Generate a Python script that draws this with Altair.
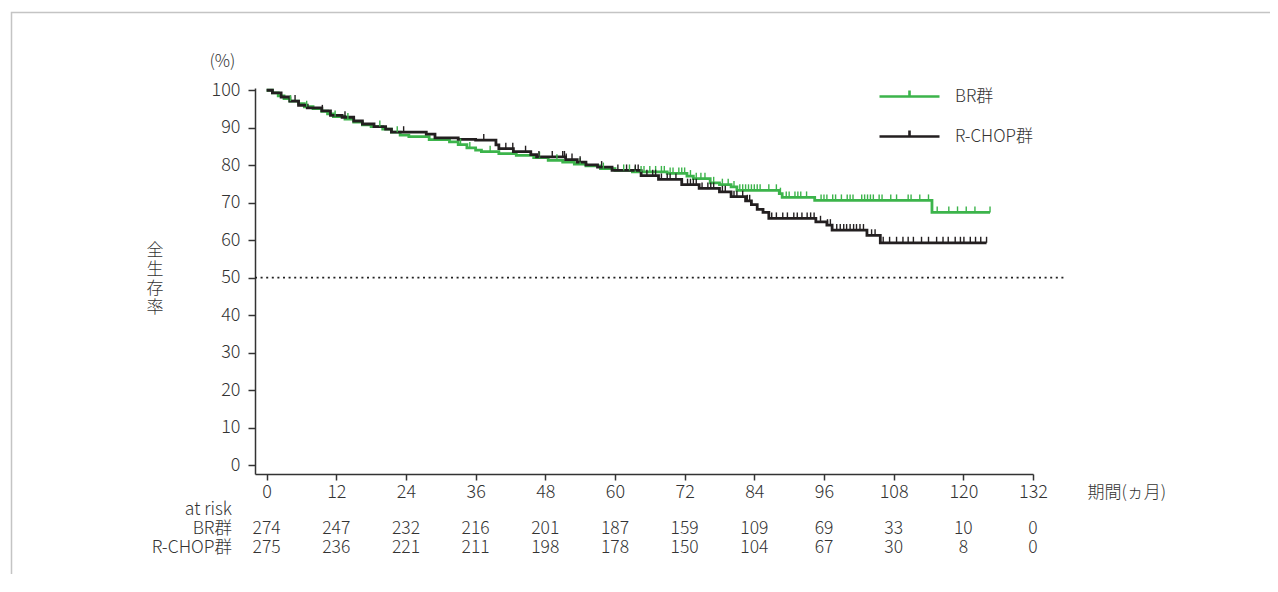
import altair as alt
import pandas as pd

FONT = "Noto Sans CJK JP"
TEXT = "#333333"
W = 300

groups = ["BR群", "R-CHOP群"]
colors = ["#3cb44b", "#231f20"]

# Kaplan-Meier steps (month, survival % after the step)
br_time = [0, 1.0, 2.0, 3.0, 4.0, 5.5, 6.5, 8.0, 9.5, 10.5, 11.5, 13.5, 15.0, 16.5, 18.0, 20.0,
           21.5, 23.0, 24.5, 28.0, 31.5, 33.0, 34.5, 36.0, 37.0, 40.0, 43.0, 46.0, 48.5, 51.0,
           53.0, 55.0, 57.5, 60.0, 63.0, 69.0, 72.4, 73.5, 76.4, 78.0, 80.0, 81.0, 88.3, 88.8,
           94.4, 114.6, 124.6]
br_surv = [100, 99.3, 98.5, 97.8, 97.1, 96.4, 95.6, 95.1, 94.4, 93.7, 93.0, 92.3, 91.5, 90.8, 90.3, 89.6,
           88.8, 88.0, 87.6, 86.8, 86.2, 85.5, 84.6, 84.0, 83.6, 83.1, 82.6, 82.0, 81.3, 80.8,
           80.3, 79.8, 79.1, 78.6, 78.2, 77.8, 77.1, 76.4, 75.3, 74.8, 74.2, 73.3, 72.4, 71.4,
           70.6, 67.4, 67.4]

rc_time = [0, 1.0, 2.5, 4.0, 5.5, 7.0, 9.5, 11.0, 13.0, 15.0, 16.5, 18.5, 20.5, 21.5, 27.5, 29.0,
           33.0, 36.0, 39.5, 40.0, 42.5, 45.5, 46.5, 51.5, 53.5, 55.0, 57.0, 59.5, 64.5, 67.5,
           71.5, 74.5, 78.0, 80.0, 82.5, 83.5, 84.5, 85.5, 86.5, 94.6, 96.5, 97.4, 103.4, 105.7,
           124.0]
rc_surv = [100, 99.3, 98.2, 97.1, 96.0, 95.3, 94.5, 93.3, 92.8, 91.8, 91.0, 90.3, 89.6, 88.8, 88.3, 87.3,
           86.9, 86.7, 85.4, 84.4, 83.6, 82.8, 82.2, 81.5, 80.8, 80.1, 79.5, 78.6, 77.2, 76.2,
           74.8, 73.8, 72.9, 71.6, 70.5, 69.5, 68.2, 67.4, 65.8, 64.9, 64.0, 62.7, 61.3, 59.3,
           59.3]

# censoring marks (months)
br_cens = [4.1, 6.9, 11.8, 14.0, 19.5, 22.5, 33.4, 35.0, 38.5, 47.0, 50.0, 54.0, 58.0, 61.5, 62.5,
           63.5, 64.5, 65.0, 66.0, 67.0, 68.0, 68.5, 69.5, 70.0, 71.0, 71.5, 72.0, 73.0, 74.0, 74.8,
           75.5, 77.0, 78.5, 79.5, 80.5, 81.5, 82.0, 82.5, 83.0, 83.5, 84.0, 84.5, 85.0, 86.5, 87.8,
           88.5, 89.5, 90.0, 91.0, 91.5, 92.0, 93.0, 95.5, 96.0, 96.5, 97.5, 98.0, 99.0, 100.0, 100.5,
           101.0, 102.5, 103.0, 103.5, 104.0, 104.5, 105.5, 106.0, 107.5, 108.5, 110.5, 111.0, 112.5,
           114.0, 115.5, 117.5, 119.0, 120.5, 122.0, 124.6]
rc_cens = [4.9, 9.6, 13.5, 23.6, 37.4, 41.2, 42.4, 44.6, 46.9, 49.2, 51.0, 51.3, 51.6, 52.6, 54.0,
           57.7, 60.5, 62.0, 63.5, 64.0, 65.5, 66.5, 67.0, 68.0, 69.0, 69.5, 70.5, 72.5, 73.0, 73.5,
           74.0, 75.0, 76.0, 76.5, 77.0, 78.5, 79.0, 80.5, 81.0, 82.0, 82.8, 83.2, 87.0, 87.8, 88.9,
           89.7, 90.8, 91.4, 92.2, 93.1, 93.7, 94.3, 95.4, 96.6, 97.1, 98.2, 98.8, 99.4, 99.9, 100.5,
           101.1, 101.6, 102.2, 102.8, 104.2, 104.8, 106.2, 107.3, 108.5, 109.6, 110.5, 111.4, 112.8,
           114.0, 115.4, 116.5, 117.4, 118.6, 119.5, 120.1, 121.2, 122.1, 123.0, 124.0]

x_ticks = list(range(0, 133, 12))
y_ticks = list(range(0, 101, 10))
risk_br = [274, 247, 232, 216, 201, 187, 159, 109, 69, 33, 10, 0]
risk_rc = [275, 236, 221, 211, 198, 178, 150, 104, 67, 30, 8, 0]
ref_level = 50


def surv_at(times, survs, t):
    v = survs[0]
    for tt, s in zip(times, survs):
        if tt <= t:
            v = s
    return v


curve = pd.concat([
    pd.DataFrame({"month": br_time, "surv": br_surv, "group": groups[0]}),
    pd.DataFrame({"month": rc_time, "surv": rc_surv, "group": groups[1]}),
])
cens = pd.concat([
    pd.DataFrame({"month": br_cens, "surv": [surv_at(br_time, br_surv, t) for t in br_cens], "group": groups[0]}),
    pd.DataFrame({"month": rc_cens, "surv": [surv_at(rc_time, rc_surv, t) for t in rc_cens], "group": groups[1]}),
])
risk_br_df = pd.DataFrame({"month": x_ticks, "n": risk_br})
risk_rc_df = pd.DataFrame({"month": x_ticks, "n": risk_rc})
ref_df = pd.DataFrame({"month": [-2], "month2": [137.5], "surv": [ref_level]})
one = pd.DataFrame({"k": [0]})

xscale = alt.Scale(domain=[-2, 132], nice=False, zero=False)
yscale = alt.Scale(domain=[-2.4, 100.6], nice=False, zero=False)
cscale = alt.Scale(domain=groups, range=colors)

x_axis = alt.Axis(values=x_ticks, title="期間(ヵ月)", titleX=832, titleY=18, titleAlign="left",
                  titleBaseline="middle", titleAngle=0, labelFlush=False, labelOverlap=False)
y_axis = alt.Axis(values=y_ticks, title="(%)", titleX=-33, titleY=-27, titleAngle=0,
                  titleAlign="center", titleBaseline="middle", labelOverlap=False)
x_enc = alt.X("month:Q", scale=xscale, axis=x_axis)
y_enc = alt.Y("surv:Q", scale=yscale, axis=y_axis)

lines = alt.Chart(curve).mark_line(interpolate="step-after", strokeWidth=2.8).encode(
    x=x_enc, y=y_enc,
    color=alt.Color("group:N", scale=cscale, title=None, legend=alt.Legend(
        orient="none", legendX=646, legendY=0, symbolType="M-5,0H5M0,0V-1",
        symbolSize=144, symbolStrokeWidth=2.6, labelOffset=37, rowPadding=20,
        labelFontSize=17, labelColor=TEXT, labelFontWeight=W, padding=0,
        symbolFillColor="transparent")),
)

ticks = alt.Chart(cens).mark_point(shape="M0,0V-1", size=144, filled=False, strokeWidth=1.4, opacity=1).encode(
    x=x_enc, y=y_enc,
    stroke=alt.Stroke("group:N", scale=cscale, legend=None),
)

ref = alt.Chart(ref_df).mark_rule(strokeDash=[2, 3.6], strokeWidth=1.6, color="#222").encode(
    x=x_enc, x2="month2:Q", y=y_enc)

txt = dict(font=FONT, fontSize=17.5, color=TEXT, fontWeight=W)
row_br = alt.Chart(risk_br_df).mark_text(baseline="middle", align="center", **txt).encode(
    x=x_enc, y=alt.value(441), text="n:Q")
row_rc = alt.Chart(risk_rc_df).mark_text(baseline="middle", align="center", **txt).encode(
    x=x_enc, y=alt.value(460), text="n:Q")
lab_at = alt.Chart(one).mark_text(text="at risk", align="right", baseline="middle", **txt).encode(
    x=alt.value(-23), y=alt.value(422))
lab_br = alt.Chart(one).mark_text(text=groups[0], align="right", baseline="middle", **txt).encode(
    x=alt.value(-23), y=alt.value(441))
lab_rc = alt.Chart(one).mark_text(text=groups[1], align="right", baseline="middle", **txt).encode(
    x=alt.value(-23), y=alt.value(460))
ytitle = alt.Chart(one).mark_text(text=["全", "生", "存", "率"], align="center", baseline="middle",
                                  lineHeight=19, font=FONT, fontSize=17, color=TEXT, fontWeight=W).encode(
    x=alt.value(-100), y=alt.value(163))

frame = alt.Chart(one).mark_rect(fill="transparent", stroke="#c4c4c4", strokeWidth=1.5).encode(
    x=alt.value(-243.5), x2=alt.value(1600), y=alt.value(-75.5), y2=alt.value(1200))

chart = alt.layer(frame, ref, lines, ticks, row_br, row_rc, lab_at, lab_br, lab_rc, ytitle).properties(
    width=778, height=386,
    autosize=alt.AutoSizeParams(type="none"),
    padding={"left": 247, "top": 80, "right": 237, "bottom": 100},
).configure(font=FONT).configure_view(stroke=None).configure_axis(
    grid=False, domainColor="#333333", domainWidth=1.5, tickColor="#333333", tickWidth=1.5,
    labelFontSize=18, labelColor=TEXT, titleFontSize=17, titleColor=TEXT, titleFontWeight=W,
    labelFontWeight=W, labelFont=FONT, titleFont=FONT,
).configure_axisY(tickSize=7, labelPadding=8).configure_axisX(tickSize=6, labelPadding=3).configure_legend(
    labelFont=FONT)

chart.save("out.html", embed_options={"renderer": "svg", "actions": False})
